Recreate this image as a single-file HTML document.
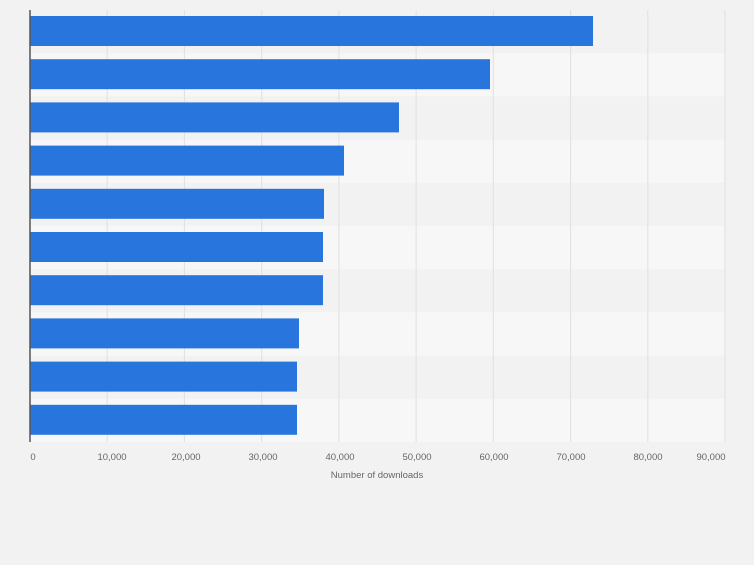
<!DOCTYPE html>
<html><head><style>
body{margin:0;width:754px;height:560px;background:#f2f2f2;font-family:"Liberation Sans",sans-serif;overflow:hidden}
</style></head><body>
<svg width="754" height="560" xmlns="http://www.w3.org/2000/svg">
<rect width="754" height="560" fill="#f2f2f2"/>
<g fill="#f7f7f7">
<rect x="30" y="53.2" width="695" height="43.2"/>
<rect x="30" y="139.6" width="695" height="43.2"/>
<rect x="30" y="226" width="695" height="43.2"/>
<rect x="30" y="312.4" width="695" height="43.2"/>
<rect x="30" y="398.8" width="695" height="43.2"/>
</g>
<g stroke="#e0e0e0" stroke-width="1">
<line x1="107.2" y1="10" x2="107.2" y2="442"/>
<line x1="184.4" y1="10" x2="184.4" y2="442"/>
<line x1="261.7" y1="10" x2="261.7" y2="442"/>
<line x1="338.9" y1="10" x2="338.9" y2="442"/>
<line x1="416.1" y1="10" x2="416.1" y2="442"/>
<line x1="493.3" y1="10" x2="493.3" y2="442"/>
<line x1="570.6" y1="10" x2="570.6" y2="442"/>
<line x1="647.8" y1="10" x2="647.8" y2="442"/>
<line x1="725" y1="10" x2="725" y2="442"/>
</g>
<g fill="#2876dd">
<rect x="30" y="16" width="563" height="30"/>
<rect x="30" y="59.2" width="460" height="30"/>
<rect x="30" y="102.4" width="369" height="30"/>
<rect x="30" y="145.6" width="314" height="30"/>
<rect x="30" y="188.8" width="294" height="30"/>
<rect x="30" y="232" width="293" height="30"/>
<rect x="30" y="275.2" width="293" height="30"/>
<rect x="30" y="318.4" width="269" height="30"/>
<rect x="30" y="361.6" width="267" height="30"/>
<rect x="30" y="404.8" width="267" height="30"/>
</g>
<line x1="30" y1="10" x2="30" y2="442" stroke="#555" stroke-width="1.5"/>
<g font-size="9.5" fill="#666" text-anchor="middle">
<text x="33" y="460">0</text>
<text x="112" y="460">10,000</text>
<text x="186" y="460">20,000</text>
<text x="263" y="460">30,000</text>
<text x="340" y="460">40,000</text>
<text x="417" y="460">50,000</text>
<text x="494" y="460">60,000</text>
<text x="571" y="460">70,000</text>
<text x="648" y="460">80,000</text>
<text x="711" y="460">90,000</text>
<text x="377" y="478">Number of downloads</text>
</g>
</svg>
</body></html>
